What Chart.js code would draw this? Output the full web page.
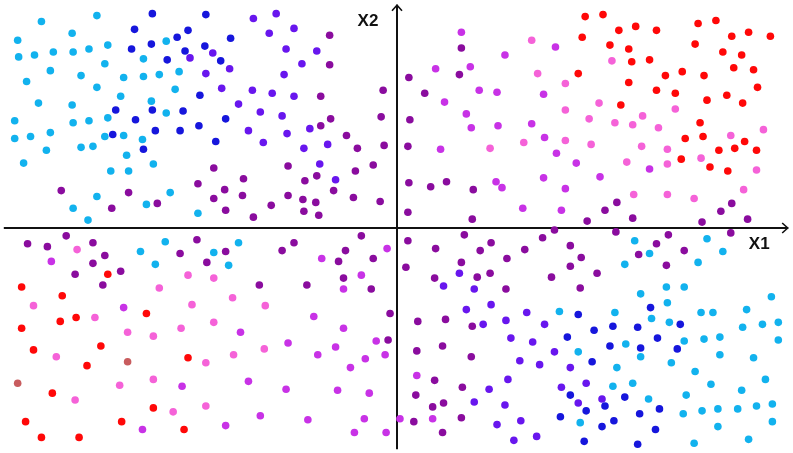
<!DOCTYPE html>
<html>
<head>
<meta charset="utf-8">
<script src="https://cdn.jsdelivr.net/npm/chart.js@4.4.0/dist/chart.umd.min.js"></script>
<style>
html,body{margin:0;padding:0;background:#fff;}
#wrap{width:793px;height:453px;position:relative;}
</style>
</head>
<body>
<div id="wrap"><canvas id="c"></canvas></div>
<script>
// Axis labels
const axisLabels = ["X1", "X2"];
// Axis ranges (data units)
const x1Range = [-39.7, 39.6];
const x2Range = [-22.5, 22.8];

// Series: [X1, X2] pairs, one array per colour group
const lightBlue = [
[-35.9,21.0],[-30.3,21.6],[-32.8,19.8],[-38.3,19.1],[-38.2,17.4],[-36.6,17.6],[-34.7,17.9],[-32.7,17.9],[-31.1,18.2],[-29.2,18.6],
[-23.3,19.0],[-25.6,17.2],[-29.5,16.7],[-35.0,16.0],[-31.9,15.5],[-27.6,15.3],[-25.6,15.4],[-24.0,15.6],[-22.0,15.9],[-37.4,14.9],
[-30.3,14.3],[-22.4,14.1],[-27.9,13.4],[-36.2,12.7],[-32.8,12.5],[-24.8,12.9],[-29.2,11.2],[-23.3,11.7],[-38.6,10.9],[-32.7,10.7],
[-31.1,10.9],[-35.0,9.7],[-38.6,9.1],[-37.0,9.3],[-29.5,9.3],[-27.6,9.4],[-25.7,9.0],[-35.4,7.9],[-31.9,8.2],[-30.7,8.3],
[-27.3,7.4],[-37.7,6.6],[-28.9,5.8],[-27.1,5.8],[-24.6,6.5],[-30.3,3.2],[-32.7,2.0],[-31.2,0.8],[-25.3,2.4],[-22.9,3.6],
[-20.1,1.5],[-23.4,-1.4],[-25.9,-2.4],[-24.4,-3.7],[-18.5,-2.5],[-16.0,-1.5],[-17.0,-3.8],
[24.0,-1.3],[25.5,-2.6],[23.0,-3.7],[31.3,-1.1],[32.9,-2.4],[30.4,-3.5],[27.2,-6.0],[29.0,-6.0],[24.6,-6.7],[37.8,-7.0],
[16.4,-8.5],[22.0,-8.6],[27.3,-7.6],[25.7,-9.2],[27.5,-9.6],[30.7,-8.6],[31.9,-8.6],[35.3,-8.3],[23.1,-11.8],[29.0,-11.5],
[31.0,-11.3],[32.6,-11.1],[34.9,-10.1],[36.9,-9.8],[38.5,-9.6],[38.5,-11.4],[18.3,-12.6],[24.6,-13.1],[22.2,-14.2],[27.7,-13.7],
[32.6,-12.9],[36.0,-13.2],[30.1,-14.6],[31.7,-15.9],[37.2,-15.4],[34.8,-16.5],[21.8,-16.1],[23.8,-15.8],[29.2,-17.0],[25.4,-17.4],
[28.9,-18.9],[30.8,-18.6],[32.4,-18.4],[34.4,-18.4],[36.3,-18.1],[37.9,-17.9],[37.9,-19.7],[18.5,-19.8],[32.4,-20.2],[35.5,-21.5],
[30.0,-21.9]
];
const blue = [
[-24.7,21.8],[-19.3,21.7],[-26.5,20.2],[-21.1,20.1],[-22.2,19.4],[-16.8,19.3],[-26.8,18.2],[-24.8,18.7],[-19.4,18.5],[-21.4,18.0],
[-23.2,17.1],[-17.8,17.0],[-19.9,13.5],[-28.4,12.0],[-24.7,12.0],[-21.6,11.9],[-17.3,11.1],[-26.4,11.0],[-24.4,9.9],[-21.9,9.9],
[-20.0,10.4],[-28.7,9.5],[-18.3,8.8],[-25.6,8.0],
[18.3,-8.8],[25.6,-8.1],[19.9,-10.4],[21.8,-10.0],[24.3,-10.1],[28.6,-9.8],[17.2,-11.1],[21.5,-12.0],[24.6,-12.2],[26.3,-11.2],
[28.3,-12.3],[19.7,-13.6],[17.5,-17.0],[23.0,-17.2],[21.0,-18.1],[19.1,-18.6],[26.5,-18.4],[24.5,-18.9],[16.5,-19.2],[21.9,-19.6],
[20.7,-20.2],[26.1,-20.5],[18.9,-21.7],[24.3,-22.0]
];
const violet = [
[-14.5,21.3],[-20.9,17.3],[-18.6,17.8],[-16.9,16.2],[-19.3,15.7],[-17.7,14.2],[-14.6,14.0],[-16.0,12.6],[-13.8,11.8],[-15.0,9.9],
[-13.5,8.7],[-12.2,21.8],[-12.9,19.8],[-10.4,20.3],[-11.2,18.2],[-8.1,18.0],[-9.6,16.7],[-11.4,15.6],[-12.6,13.7],[-10.4,13.4],
[-11.6,11.4],[-8.8,10.1],[-11.1,9.6],[-7.0,8.5],[-9.4,8.1],[-7.8,6.5],[-6.2,4.9],
[6.3,-4.6],[4.7,-5.9],[7.8,-6.2],[7.0,-8.3],[9.5,-7.8],[8.7,-9.8],[11.0,-9.4],[13.1,-8.6],[11.5,-11.2],[12.4,-13.5],
[11.2,-15.4],[9.3,-16.4],[7.8,-17.7],[10.9,-18.0],[10.1,-20.0],[12.5,-19.6],[11.8,-21.6],[14.9,-9.8],[13.7,-11.6],[15.9,-12.6],
[14.4,-13.9],[17.5,-14.2],[16.6,-16.2],[19.1,-15.8],[18.3,-17.8],[20.7,-17.4],[14.1,-21.2]
];
const purple = [
[-6.8,19.6],[-6.8,16.6],[-7.7,13.4],[-6.7,11.1],[-7.7,10.4],[-5.1,9.4],[-4.0,8.1],[-1.4,14.0],[-1.6,11.3],[-1.3,8.4],
[1.2,15.3],[2.8,13.7],[1.3,11.0],[1.1,8.3],[6.5,18.3],[6.3,15.6],
[-33.9,3.8],[-27.1,3.6],[-28.8,2.0],[-24.2,2.5],[-18.5,6.1],[-20.1,4.5],[-15.5,5.0],[-17.4,3.9],[-15.6,3.3],[-18.5,3.0],
[-17.3,1.8],[-14.5,1.1],
[-37.3,-1.6],[-33.4,-0.8],[-35.3,-1.9],[-30.7,-1.5],[-29.5,-2.8],[-30.7,-3.6],[-27.9,-4.4],[-32.5,-4.7],[-29.7,-5.8],[-21.9,-2.6],
[-20.2,-1.2],[-19.2,-3.5],[-17.3,-2.4],[-13.9,-5.8],
[-11.0,6.3],[-8.1,5.3],[-9.3,4.8],[-4.2,5.8],[-2.4,6.4],[-6.4,3.8],[-11.0,3.3],[-9.5,2.9],[-8.2,2.6],[-4.4,3.1],
[-1.7,2.7],[-12.7,2.3],[-9.4,1.7],[-7.9,1.3],
[1.2,4.6],[3.4,4.2],[5.0,4.7],[7.7,3.9],[1.1,1.6],[7.6,0.9],
[-10.4,-1.5],[-11.6,-2.3],[-3.6,-0.8],[-5.2,-2.3],[-5.9,-3.4],[-2.4,-3.1],[-5.4,-5.1],[-9.1,-5.8],[-2.6,-6.2],
[1.1,-1.3],[6.8,-0.7],[3.9,-2.1],[9.5,-1.5],[8.4,-2.3],[12.9,-2.2],[11.1,-3.1],[6.5,-3.5],[0.9,-4.0],[3.8,-5.1],
[8.1,-5.0],[9.4,-4.6],[11.0,-6.2],
[22.2,2.6],[21.0,1.8],[19.2,0.7],[23.8,1.0],[30.8,0.6],[32.7,1.7],[33.8,2.5],[35.4,0.9],
[15.9,-0.2],[14.7,-1.0],[17.5,-1.8],[18.6,-3.0],[17.5,-3.9],[15.6,-5.0],[20.2,-4.6],[18.5,-6.1],[22.1,-0.4],[26.2,-1.6],
[27.4,-0.7],[24.4,-2.7],[29.0,-2.3],[27.2,-3.8],[33.7,-0.5],
[-0.7,-8.7],[-0.9,-11.4],[2.1,-9.5],[4.9,-9.3],[7.6,-10.0],[2.0,-12.5],[4.6,-12.0],[7.5,-13.1],[3.8,-15.5],[6.6,-16.2],
[1.9,-17.0],[3.6,-18.2],[4.7,-17.8],[6.5,-19.3],[1.7,-19.7],[4.6,-20.8]
];
const magenta = [
[6.5,19.9],[3.9,16.2],[7.4,16.4],[4.8,12.8],[8.3,14.0],[10.1,13.8],[7.0,11.6],[7.5,10.2],[10.2,10.4],[4.4,8.0],
[10.9,17.6],[16.0,18.4],[14.8,13.6],[13.6,10.6],[14.9,9.2],[16.1,7.6],
[-34.9,-3.4],[-7.6,-3.1],[-1.0,-2.1],[-3.6,-4.8],[-5.4,-6.2],[10.0,4.7],[10.6,4.1],[12.7,2.0],
[18.1,6.6],[14.8,5.1],[20.5,5.2],[17.0,4.0],[16.6,1.8],[25.5,6.0],
[-27.6,-8.1],[-15.8,-10.6],[-21.7,-16.1],[-15.0,-15.6],[-13.8,-19.1],[-17.3,-20.1],[-25.7,-20.5],
[-8.4,-9.0],[-5.4,-10.2],[-11.0,-11.7],[-6.2,-12.1],[-8.0,-12.9],[-2.1,-11.5],[-1.2,-12.9],[-3.2,-13.3],[-4.7,-14.2],
[-11.2,-16.4],[-6.0,-16.5],[-2.8,-16.8],[-9.0,-19.5],[-3.3,-19.4],[-4.3,-20.8],[-1.1,-20.8],[0.3,-19.4],[2.0,-15.0],[3.6,-19.4]
];
const pink = [
[9.4,8.1],[12.8,8.7],
[13.6,19.1],[21.7,17.0],[14.2,15.7],[17.0,14.7],[20.4,12.7],[17.0,12.0],[19.4,11.1],[22.0,10.7],[23.8,10.5],[24.8,11.4],
[28.1,12.1],[26.4,10.2],[17.0,8.9],[19.6,8.5],[24.7,8.3],[27.3,8.0],[33.7,9.4],[37.0,10.0],
[-32.3,-2.2],[-21.1,-4.8],[-18.5,-5.1],[-24.0,-6.1],[-16.6,-7.1],
[23.2,6.7],[27.3,6.5],[30.7,7.1],[36.3,5.9],[23.9,3.4],[27.3,3.4],[30.0,3.0],[35.0,3.9],
[-36.7,-7.9],[-30.5,-9.1],[-27.2,-10.6],[-24.6,-11.0],[-20.7,-7.8],[-18.5,-9.6],[-21.8,-10.2],[-34.4,-13.1],[-19.3,-13.7],[-16.5,-12.9],
[-13.4,-12.3],[-24.6,-15.4],[-28.0,-16.0],[-32.5,-17.5],[-22.6,-18.7],[-19.3,-18.1],[-13.3,-7.9]
];
const red = [
[19.0,21.5],[20.8,21.7],[22.4,20.1],[24.1,20.5],[26.2,20.1],[30.4,20.8],[32.2,21.1],[18.7,19.4],[21.5,18.6],[23.4,18.2],
[30.1,18.7],[33.8,19.5],[35.5,19.9],[37.7,19.5],[32.9,17.9],[34.8,17.6],[23.7,16.9],[25.5,17.1],[18.3,15.7],[27.1,15.5],
[28.8,15.9],[31.0,15.5],[34.0,16.3],[36.0,16.1],[23.4,14.8],[26.2,14.0],[28.1,13.7],[31.3,13.0],[33.3,13.5],[36.4,14.3],
[34.9,12.7],[22.6,12.5],[30.6,10.7],[29.1,9.1],[30.9,9.3],[35.1,8.8],[34.1,8.1],[32.5,7.9],[36.3,7.9],[28.7,7.0],
[31.6,6.2],[33.4,5.8],
[-29.2,-4.7],[-37.9,-6.0],[-33.8,-6.9],[-34.0,-9.5],[-32.4,-9.1],[-25.3,-8.7],[-37.9,-10.2],[-36.7,-12.4],[-29.9,-12.0],[-31.3,-14.0],
[-21.1,-13.2],[-34.8,-16.8],[-24.6,-18.3],[-27.8,-19.7],[-37.5,-19.7],[-35.9,-21.3],[-32.1,-21.3],[-21.5,-20.5]
];
const dullRed = [[-27.2,-13.6],[-38.3,-15.8]];

const groups = [
  {name: "light blue", pts: lightBlue, color: "#12b2ee"},
  {name: "blue", pts: blue, color: "#1616dc"},
  {name: "violet", pts: violet, color: "#6816ee"},
  {name: "purple", pts: purple, color: "#8a0c9e"},
  {name: "magenta", pts: magenta, color: "#c832e6"},
  {name: "pink", pts: pink, color: "#f562d8"},
  {name: "red", pts: red, color: "#ff0808"},
  {name: "dull red", pts: dullRed, color: "#c85c5e"}
];

const axesPlugin = {
  id: 'centerAxes',
  beforeDatasetsDraw(chart) {
    const ctx = chart.ctx;
    const xs = chart.scales.x, ys = chart.scales.y;
    const ox = Math.round(xs.getPixelForValue(0));
    const oy = Math.round(ys.getPixelForValue(0));
    const left = xs.left, right = xs.right, top = ys.top, bottom = ys.bottom;
    ctx.save();
    ctx.strokeStyle = '#111';
    ctx.lineWidth = 2;
    ctx.lineCap = 'butt';
    ctx.beginPath();
    ctx.moveTo(left, oy); ctx.lineTo(right - 1, oy);
    ctx.moveTo(ox, bottom); ctx.lineTo(ox, top + 1);
    ctx.stroke();
    ctx.lineWidth = 1.6;
    ctx.lineJoin = 'miter';
    ctx.beginPath();
    ctx.moveTo(right - 7, oy - 5); ctx.lineTo(right - 1.5, oy); ctx.lineTo(right - 7, oy + 5);
    ctx.moveTo(ox - 5, top + 7); ctx.lineTo(ox, top + 1.5); ctx.lineTo(ox + 5, top + 7);
    ctx.stroke();
    ctx.fillStyle = '#111';
    ctx.font = 'bold 17px "Liberation Sans", Arial, sans-serif';
    ctx.textAlign = 'center';
    ctx.textBaseline = 'middle';
    ctx.fillText(axisLabels[0], right - 30, oy + 16);
    ctx.fillText(axisLabels[1], ox - 29, top + 18);
    ctx.restore();
  }
};

new Chart(document.getElementById('c'), {
  type: 'scatter',
  data: {
    datasets: groups.map(g => ({
      label: g.name,
      data: g.pts.map(p => ({x: p[0], y: p[1]})),
      backgroundColor: g.color,
      borderWidth: 0,
      pointRadius: 3.8,
      pointHoverRadius: 3.8
    }))
  },
  options: {
    responsive: true,
    maintainAspectRatio: false,
    animation: false,
    layout: {padding: 0},
    plugins: {legend: {display: false}, tooltip: {enabled: false}},
    scales: {
      x: {type: 'linear', min: x1Range[0], max: x1Range[1], display: false},
      y: {type: 'linear', min: x2Range[0], max: x2Range[1], display: false}
    }
  },
  plugins: [axesPlugin]
});
</script>
</body>
</html>
